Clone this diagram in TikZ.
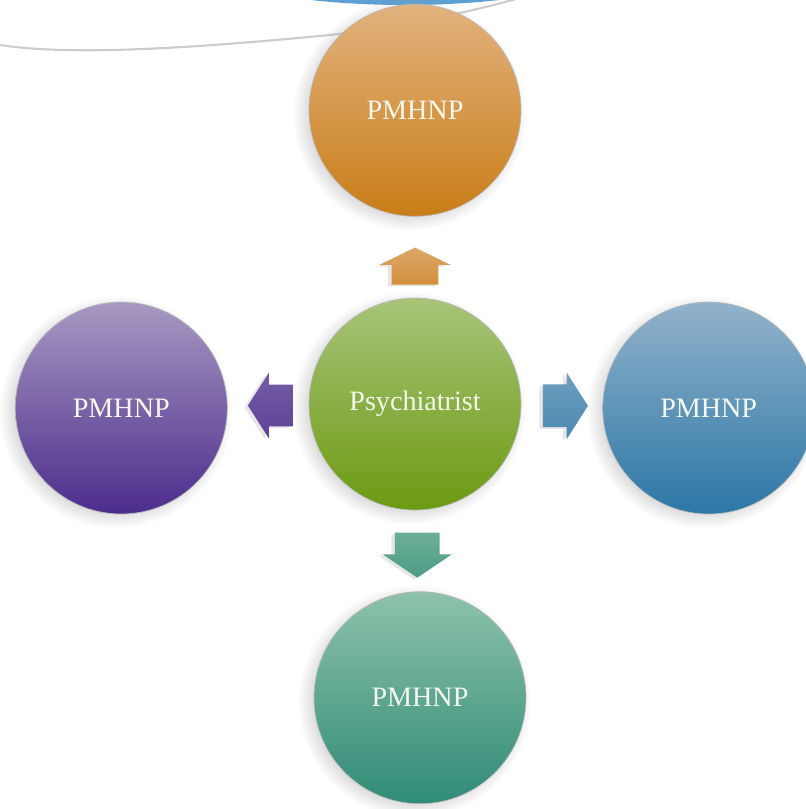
\documentclass[tikz,border=0pt]{standalone}
\usepackage{fontspec}
\setmainfont{Liberation Serif}
\usepackage{xcolor}
\usetikzlibrary{shapes.arrows,shadows,positioning,calc}

\definecolor{orgTop}{HTML}{E2B27E}
\definecolor{orgBot}{HTML}{C97D17}
\definecolor{grnTop}{HTML}{A8C47A}
\definecolor{grnBot}{HTML}{6B9A10}
\definecolor{purTop}{HTML}{A899C2}
\definecolor{purBot}{HTML}{4B2C8C}
\definecolor{bluTop}{HTML}{92B2CB}
\definecolor{bluBot}{HTML}{2B77A6}
\definecolor{tealTop}{HTML}{8EC2AA}
\definecolor{tealBot}{HTML}{2F8B77}
\definecolor{labelcol}{HTML}{F4F7EC}
\definecolor{bandTop}{HTML}{8CC4E8}
\definecolor{bandBot}{HTML}{5D9FD2}

\begin{document}
\begin{tikzpicture}[
    node distance=1.62cm,
    role/.style={circle, minimum size=4.24cm, inner sep=0pt, draw=gray!55, thin,
        circular drop shadow={shadow xshift=-3pt, shadow yshift=-2pt, opacity=0.35, fill=black!40},
        text=labelcol, font=\fontsize{16}{18}\selectfont},
    flow/.style={single arrow, single arrow head extend=0.24cm, single arrow tip angle=120,
        minimum height=0.9cm, draw=none,
        drop shadow={shadow xshift=-2pt, shadow yshift=-1pt, opacity=0.2}},
    flowh/.style={flow, inner xsep=0pt},
    flowv/.style={flow, inner ysep=0pt}
]
    \useasboundingbox (0,0) rectangle (16.12,-16.18);
    \clip (0,0) rectangle (16.12,-16.18);

    % backdrop at the top edge
    \shade[top color=bandTop, bottom color=bandBot] (8.1,1.2) ellipse (4.9cm and 1.3cm);
    \draw[gray!40, line width=1.2pt] (0,-0.9) .. controls (1.6,-1.15) and (4.5,-0.9) .. (6.6,-0.7)
        .. controls (8.2,-0.5) and (9.6,-0.2) .. (10.6,0.1);

    \node [role, top color=grnTop, bottom color=grnBot] (psy) at (8.3,-8.08) {Psychiatrist};
    \node [role, top color=orgTop, bottom color=orgBot, above=of psy] (up) {PMHNP};
    \node [role, top color=purTop, bottom color=purBot, left=of psy, yshift=-0.08cm] (lft) {PMHNP};
    \node [role, top color=bluTop, bottom color=bluBot, right=of psy, yshift=-0.08cm] (rgt) {PMHNP};
    \node [role, top color=tealTop, bottom color=tealBot, below=of psy, xshift=0.1cm] (down) {PMHNP};

    \node [flowv, shape border rotate=90, inner xsep=0.46cm, minimum height=0.74cm, single arrow tip angle=128,
        top color=orgTop!80!orgBot, bottom color=orgTop!35!orgBot] (aup) at ($(psy.north)!0.32!(up.south)$) {};
    \node [flowh, shape border rotate=180, inner ysep=0.41cm, single arrow tip angle=115,
        top color=purTop!45!purBot, bottom color=purBot!90] (alft) at ($(psy.west)!0.39!(lft.east)$) {};
    \node [flowh, inner ysep=0.42cm, single arrow tip angle=115,
        top color=bluTop!65!bluBot, bottom color=bluTop!30!bluBot] (argt) at ($(psy.east)!0.46!(rgt.west)$) {};
    \node [flowv, shape border rotate=270, inner xsep=0.44cm, single arrow tip angle=112,
        top color=tealTop!65!tealBot, bottom color=tealTop!30!tealBot] (adown) at ($(psy.south)!0.46!(down.north)$) {};
\end{tikzpicture}
\end{document}
